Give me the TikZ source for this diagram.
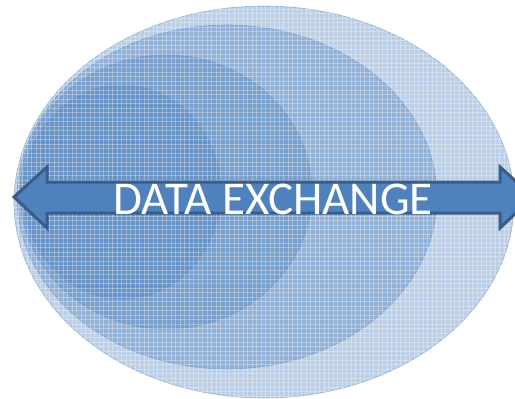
\documentclass[tikz,border=0pt]{standalone}
\usepackage{fontspec}
\setmainfont{Carlito}
\definecolor{officeblue}{HTML}{4F81BD}
\definecolor{officeline}{HTML}{385D8A}
\begin{document}
\begin{tikzpicture}[x=1pt,y=-1pt,
  ring/.style={fill=officeblue,fill opacity=0.38,draw=officeblue,draw opacity=0.5,line width=0.6pt},
  arrowbody/.style={fill=officeblue,draw=officeline,line width=3pt,line join=miter},
  label/.style={text=white,font=\fontsize{47}{47}\selectfont,inner sep=0pt}]
\useasboundingbox (0,0) rectangle (515,399);
\clip (0,0) rectangle (515,399);
% nested ellipses
\path[ring] (264,202) ellipse [x radius=250,y radius=196];
\path[ring] (227,197) ellipse [x radius=210,y radius=172];
\path[ring] (166,192) ellipse [x radius=146,y radius=137];
\path[ring] (122,192) ellipse [x radius=99,y radius=107];
% grid texture
\begin{scope}
  \clip (264,202) ellipse [x radius=250,y radius=196];
  \foreach \i in {0,4.5,...,515} {\draw[white,opacity=0.3,line width=0.7pt] (\i,0) -- (\i,399);}
  \foreach \j in {0,4.5,...,399} {\draw[white,opacity=0.3,line width=0.7pt] (0,\j) -- (515,\j);}
\end{scope}
% double arrow
\path[arrowbody] (14,197) -- (47,167) -- (47,182) -- (500,182) -- (500,167) -- (533,197)
  -- (500,228) -- (500,213) -- (47,213) -- (47,228) -- cycle;
\node[label] (t) at (273,199) {DATA EXCHANGE};
\end{tikzpicture}
\end{document}
